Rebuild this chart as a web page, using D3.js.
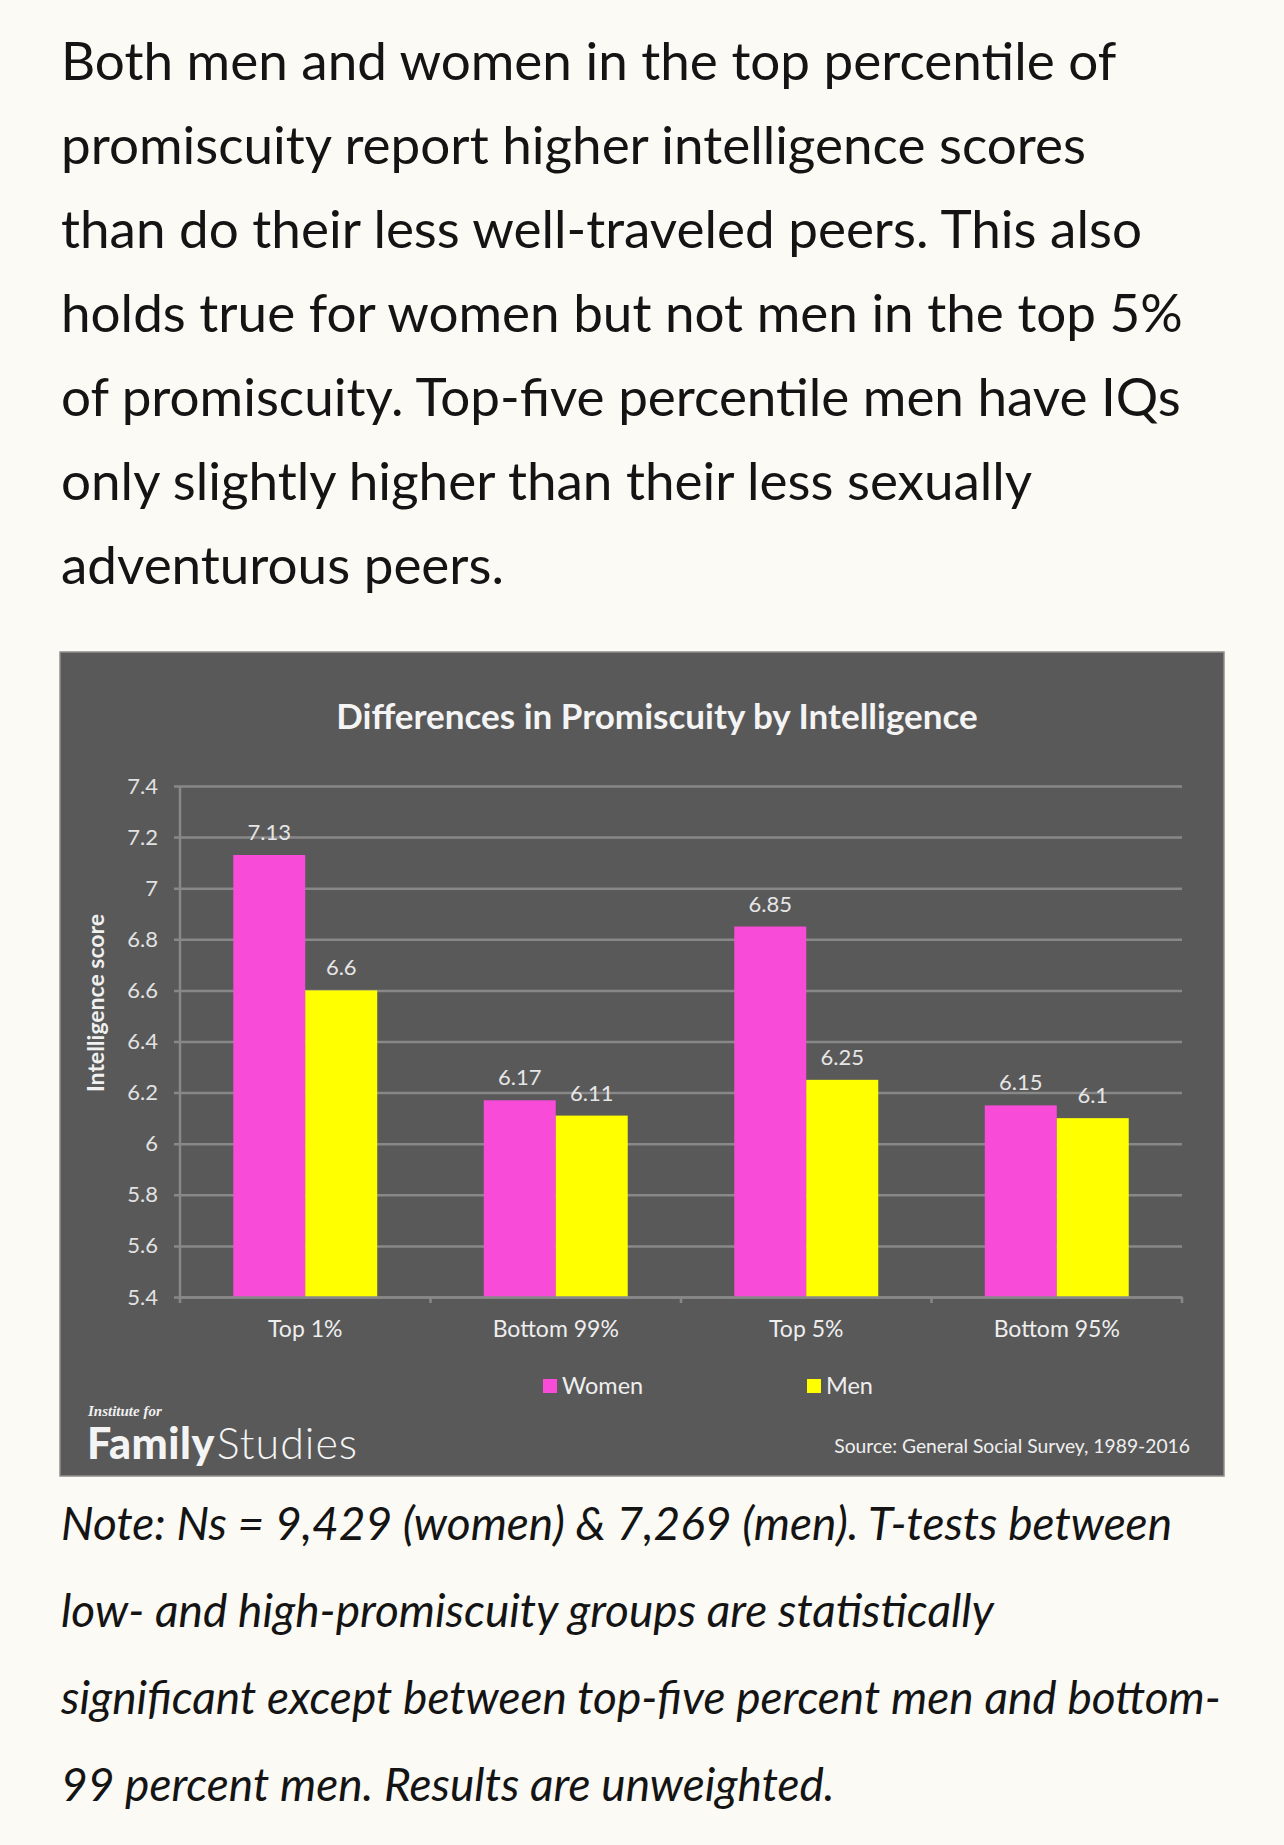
<!DOCTYPE html>
<html>
<head>
<meta charset="utf-8">
<script src="https://cdn.jsdelivr.net/npm/d3@7"></script>
<style>
  html, body { margin: 0; padding: 0; background: #fbfaf5; }
  svg { display: block; }
</style>
</head>
<body>
<div id="page"></div>
<script>
// chart data
const categories = ["Top 1%", "Bottom 99%", "Top 5%", "Bottom 95%"];
const seriesNames = ["Women", "Men"];
const womenValues = [7.13, 6.17, 6.85, 6.15];
const menValues = [6.6, 6.11, 6.25, 6.1];
const yTickValues = [5.4, 5.6, 5.8, 6, 6.2, 6.4, 6.6, 6.8, 7, 7.2, 7.4];

const introLines = [
    "Both men and women in the top percentile of",
    "promiscuity report higher intelligence scores",
    "than do their less well-traveled peers. This also",
    "holds true for women but not men in the top 5%",
    "of promiscuity. Top-five percentile men have IQs",
    "only slightly higher than their less sexually",
    "adventurous peers."
];
const noteLines = [
    "Note: Ns = 9,429 (women) & 7,269 (men). T-tests between",
    "low- and high-promiscuity groups are statistically",
    "significant except between top-five percent men and bottom-",
    "99 percent men. Results are unweighted."
];

const colors = { Women: "#f74bd8", Men: "#ffff00" };

const W = 1284, H = 1845;
const panel = { x: 60, y: 652, w: 1164, h: 824 };
const plot = { left: 180, right: 1182, top: 786, bottom: 1297 };

const svg = d3.select("#page").append("svg")
    .attr("width", W)
    .attr("height", H);

// intro paragraph
svg.append("g")
    .selectAll("text")
    .data(introLines)
    .enter()
    .append("text")
    .attr("x", 61)
    .attr("y", (d, i) => 80 + i * 84)
    .attr("font-family", "Lato, sans-serif")
    .attr("font-size", "53px")
    .attr("fill", "#141414")
    .text(d => d);

// dark chart panel
svg.append("rect")
    .attr("x", panel.x)
    .attr("y", panel.y)
    .attr("width", panel.w)
    .attr("height", panel.h)
    .attr("fill", "#595959")
    .attr("stroke", "#8f8f8f")
    .attr("stroke-width", 1.5);

svg.append("text")
    .attr("x", 657)
    .attr("y", 729)
    .attr("text-anchor", "middle")
    .attr("font-family", "Lato, sans-serif")
    .attr("font-weight", "bold")
    .attr("font-size", "35px")
    .attr("fill", "#f4f4f4")
    .text("Differences in Promiscuity by Intelligence");

const x0 = d3.scaleBand()
    .domain(categories)
    .range([plot.left, plot.right])
    .padding(0);

const x1 = d3.scaleBand()
    .domain(seriesNames)
    .range([0, x0.bandwidth()])
    .paddingInner(0)
    .paddingOuter(0.74);

const y = d3.scaleLinear()
    .domain([5.4, 7.4])
    .range([plot.bottom, plot.top]);

// gridlines + y labels
const yAxis = svg.append("g")
    .attr("transform", `translate(${plot.left - 6},0)`)
    .call(d3.axisLeft(y)
        .tickValues(yTickValues)
        .tickSize(-(plot.right - plot.left + 6))
        .tickPadding(16)
        .tickFormat(d3.format("")));
yAxis.select(".domain").remove();
yAxis.selectAll("line")
    .attr("stroke", "#888888")
    .attr("stroke-width", 2.5);
yAxis.selectAll("text")
    .attr("font-family", "Lato, sans-serif")
    .attr("font-size", "22px")
    .attr("fill", "#e2e2e2");

// vertical axis line
svg.append("line")
    .attr("x1", plot.left).attr("x2", plot.left)
    .attr("y1", y(7.4)).attr("y2", y(5.4))
    .attr("stroke", "#888888")
    .attr("stroke-width", 2.5);

svg.append("text")
    .attr("transform", `translate(96,1003) rotate(-90)`)
    .attr("text-anchor", "middle")
    .attr("dy", "0.35em")
    .attr("font-family", "Lato, sans-serif")
    .attr("font-weight", "bold")
    .attr("font-size", "23px")
    .attr("fill", "#f0f0f0")
    .text("Intelligence score");

// bars
const rows = categories.map((c, i) => ({ cat: c, Women: womenValues[i], Men: menValues[i] }));

const groups = svg.append("g")
    .selectAll("g")
    .data(rows)
    .enter()
    .append("g")
    .attr("transform", d => `translate(${x0(d.cat)},0)`);

groups.selectAll("rect")
    .data(d => seriesNames.map(s => ({ s, v: d[s] })))
    .enter()
    .append("rect")
    .attr("x", d => x1(d.s))
    .attr("y", d => y(d.v))
    .attr("width", x1.bandwidth())
    .attr("height", d => y(5.4) - y(d.v))
    .attr("fill", d => colors[d.s]);

groups.selectAll(".val")
    .data(d => seriesNames.map(s => ({ s, v: d[s] })))
    .enter()
    .append("text")
    .attr("class", "val")
    .attr("x", d => x1(d.s) + x1.bandwidth() / 2)
    .attr("y", d => y(d.v) - 15)
    .attr("text-anchor", "middle")
    .attr("font-family", "Lato, sans-serif")
    .attr("font-size", "22px")
    .attr("fill", "#e6e6e6")
    .text(d => d.v);

// bottom axis with ticks at category boundaries
const xAxis = svg.append("g")
    .attr("transform", `translate(0,${plot.bottom})`)
    .call(d3.axisBottom(x0).tickSize(0).tickPadding(24));
xAxis.select(".domain")
    .attr("stroke", "#888888")
    .attr("stroke-width", 2.5);
xAxis.selectAll("text")
    .attr("font-family", "Lato, sans-serif")
    .attr("font-size", "23px")
    .attr("fill", "#eeeeee");

const bounds = categories.map(c => x0(c)).concat([x0.range()[1]]);
svg.append("g")
    .selectAll("line")
    .data(bounds)
    .enter()
    .append("line")
    .attr("x1", d => d).attr("x2", d => d)
    .attr("y1", plot.bottom).attr("y2", plot.bottom + 6)
    .attr("stroke", "#888888")
    .attr("stroke-width", 2.5);

// legend
const legendX = d3.scaleOrdinal().domain(seriesNames).range([543, 807]);
const legend = svg.append("g")
    .selectAll("g")
    .data(seriesNames)
    .enter()
    .append("g")
    .attr("transform", d => `translate(${legendX(d)},1379)`);
legend.append("rect")
    .attr("width", 14)
    .attr("height", 14)
    .attr("fill", d => colors[d]);
legend.append("text")
    .attr("x", 19)
    .attr("y", 7)
    .attr("dy", "0.36em")
    .attr("font-family", "Lato, sans-serif")
    .attr("font-size", "23.5px")
    .attr("fill", "#eeeeee")
    .text(d => d);

// logo
svg.append("text")
    .attr("x", 88)
    .attr("y", 1416)
    .attr("font-family", "'Liberation Serif', serif")
    .attr("font-style", "italic")
    .attr("font-weight", "bold")
    .attr("font-size", "15px")
    .attr("fill", "#f0f0f0")
    .text("Institute for");

const logo = svg.append("text")
    .attr("x", 87)
    .attr("y", 1459)
    .attr("font-family", "Lato, sans-serif")
    .attr("font-size", "43px")
    .attr("fill", "#f4f4f4");
logo.append("tspan").attr("font-weight", "900").attr("letter-spacing", "0.5").text("Family");
logo.append("tspan").attr("dx", 2).attr("font-weight", "300").attr("letter-spacing", "1").text("Studies");

svg.append("text")
    .attr("x", 1190)
    .attr("y", 1453)
    .attr("text-anchor", "end")
    .attr("font-family", "Lato, sans-serif")
    .attr("font-size", "19.3px")
    .attr("fill", "#efefef")
    .text("Source: General Social Survey, 1989-2016");

// note paragraph
svg.append("g")
    .selectAll("text")
    .data(noteLines)
    .enter()
    .append("text")
    .attr("x", 61)
    .attr("y", (d, i) => 1540 + i * 87)
    .attr("font-family", "Lato, sans-serif")
    .attr("font-style", "italic")
    .attr("font-size", "46px")
    .attr("fill", "#141414")
    .text(d => d);
</script>
</body>
</html>
